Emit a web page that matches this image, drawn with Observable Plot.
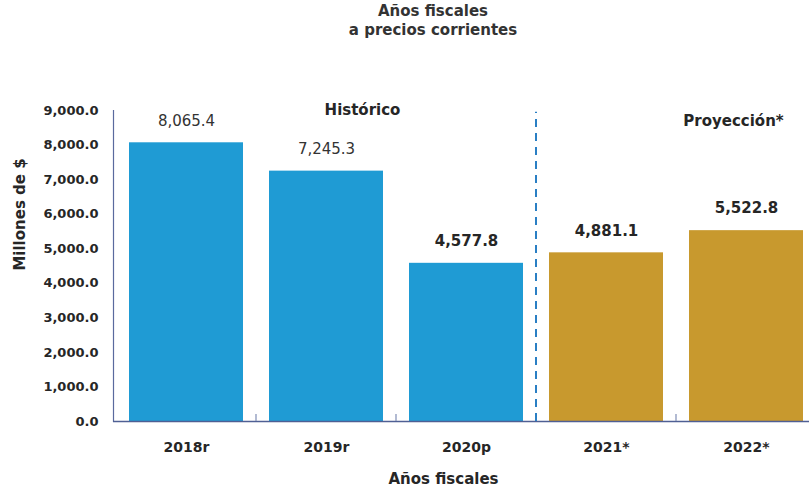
<!DOCTYPE html>
<html><head><meta charset="utf-8">
<script src="https://cdn.jsdelivr.net/npm/d3@7"></script>
<script src="https://cdn.jsdelivr.net/npm/@observablehq/plot@0.6"></script>
<style>
body{margin:0;background:#fff;font-family:"DejaVu Sans",sans-serif;}
#title{width:866px;text-align:center;font-weight:bold;font-size:15px;line-height:19px;padding-top:2px;height:42px;color:#333;}
#chart svg{display:block;}
</style></head><body>
<div id="title">Años fiscales<br>a precios corrientes</div>
<div id="chart"></div>
<script>
const years = ["2018r", "2019r", "2020p", "2021*", "2022*"];
const values = [8065.4, 7245.3, 4577.8, 4881.1, 5522.8];
const periods = ["Histórico", "Histórico", "Histórico", "Proyección", "Proyección"];
const boldLabel = [false, false, true, true, true];
const yTicks = [0, 1000, 2000, 3000, 4000, 5000, 6000, 7000, 8000, 9000];
const sectionLabels = ["Histórico", "Proyección*"];
const sectionX = ["2019r", "2022*"];
const sectionY = [9000, 8680];
const sectionDx = [36, -13];
const yLabel = "Millones de $";
const xLabel = "Años fiscales";

const data = years.map((y, i) => ({year: y, value: values[i], period: periods[i], bold: boldLabel[i]}));
const sections = sectionLabels.map((l, i) => ({label: l, x: sectionX[i], y: sectionY[i], dx: sectionDx[i]}));
const fmt = d3.format(",.1f");
const halfStep = -70.5;

const plot = Plot.plot({
  width: 809,
  height: 448,
  marginLeft: 113,
  marginRight: 0,
  marginTop: 66,
  marginBottom: 71,
  style: {fontFamily: "DejaVu Sans, sans-serif", color: "#262626", background: "#fff"},
  x: {domain: years, range: [113, 820], padding: 0.184, paddingOuter: 0.1, label: null},
  y: {domain: [0, 9000], label: null},
  color: {domain: ["Histórico", "Proyección"], range: ["#1f9bd4", "#c8992e"]},
  marks: [
    Plot.barY(data, {x: "year", y: "value", fill: "period"}),
    Plot.frame({anchor: "left", stroke: "#5a6a9e", strokeWidth: 1.2}),
    Plot.ruleY([0], {stroke: "#4f5f94", strokeWidth: 1.5}),
    Plot.ruleX(years.slice(1).filter(y => y !== "2021*"), {x: d => d, y1: 0, y2: 200, dx: halfStep, stroke: "#7f8db5", strokeWidth: 1.2}),
    Plot.ruleX(["2021*"], {x: d => d, y1: 0, y2: 8950, dx: halfStep, stroke: "#2a7fc4", strokeWidth: 2, strokeDasharray: "8,6"}),
    Plot.axisY({ticks: yTicks, tickSize: 0, tickPadding: 15, tickFormat: fmt, fontSize: 13, fontWeight: "bold", label: null}),
    Plot.axisX({tickSize: 0, tickPadding: 21, fontSize: 14, fontWeight: "bold", label: null}),
    Plot.text(data.filter(d => !d.bold), {x: "year", y: "value", text: d => fmt(d.value), dy: -22, fontSize: 15, fill: "#333"}),
    Plot.text(data.filter(d => d.bold), {x: "year", y: "value", text: d => fmt(d.value), dy: -22, fontSize: 15, fontWeight: "bold", fill: "#262626"}),
    Plot.text([sections[0]], {x: "x", y: "y", text: "label", dx: sections[0].dx, fontSize: 15, fontWeight: "bold", fill: "#262626"}),
    Plot.text([sections[1]], {x: "x", y: "y", text: "label", dx: sections[1].dx, fontSize: 15, fontWeight: "bold", fill: "#262626"}),
    Plot.text([yLabel], {frameAnchor: "top-left", text: d => d, rotate: -90, textAnchor: "middle", lineAnchor: "middle", dx: -93, dy: 104, fontSize: 15, fontWeight: "bold", fill: "#262626"}),
    Plot.text([xLabel], {frameAnchor: "bottom", text: d => d, dx: -18, dy: 62, fontSize: 15, fontWeight: "bold", fill: "#262626"})
  ]
});
document.getElementById("chart").append(plot);
</script>
</body></html>
